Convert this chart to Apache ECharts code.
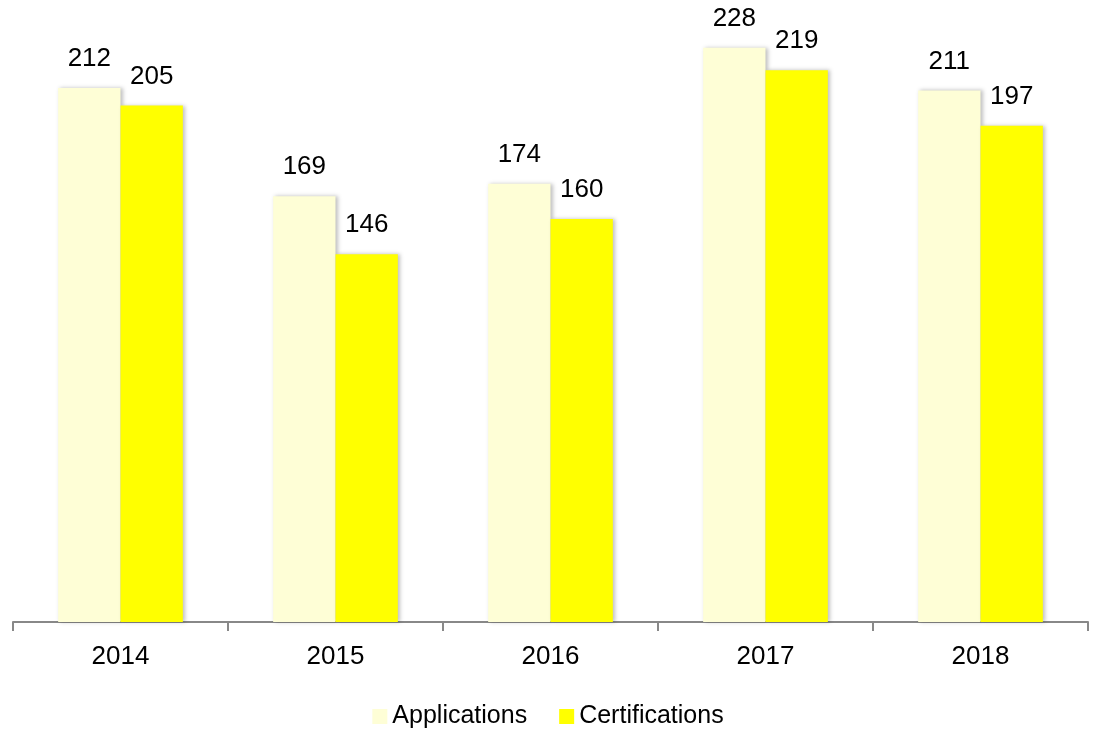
<!DOCTYPE html>
<html><head><meta charset="utf-8">
<script src="https://cdn.jsdelivr.net/npm/echarts@6/dist/echarts.min.js"></script>
<style>html,body{margin:0;padding:0;background:#fff}#c{width:1096px;height:731px}</style>
</head><body><div id="c"></div>
<script>
const categories = ['2014','2015','2016','2017','2018'];
const applications = [212,169,174,228,211];
const certifications = [205,146,160,219,197];
const seriesNames = ['Applications','Certifications'];

const FONT = '"Liberation Sans Narrow","Arial Narrow","Liberation Sans",Arial,sans-serif';
const chart = echarts.init(document.getElementById('c'));
const lbl = {show:true, position:'top', distance:16, color:'#000', fontSize:26, fontFamily:FONT};
const shadow = {shadowColor:'rgba(0,0,0,0.25)', shadowBlur:4, shadowOffsetX:2, shadowOffsetY:0};
chart.setOption({
  animation:false,
  grid:{left:13, right:8, top:17.4, bottom:109, containLabel:false},
  legend:{bottom:-3, left:'center', itemWidth:15, itemHeight:15, itemGap:32,
    icon:'rect', textStyle:{fontSize:25, fontFamily:FONT, color:'#000'},
    data:seriesNames},
  xAxis:{type:'category', data:categories,
    axisLine:{lineStyle:{color:'#888', width:2}},
    axisTick:{show:true, alignWithLabel:false, length:9, lineStyle:{color:'#888', width:2}},
    axisLabel:{margin:22, fontSize:26, fontFamily:FONT, color:'#000'}},
  yAxis:{type:'value', min:0, max:240, show:false, splitLine:{show:false}},
  series:[
    {name:seriesNames[0], type:'bar', data:applications, barGap:'0%', barCategoryGap:'42%',
      itemStyle:Object.assign({color:'#FEFED6'}, shadow), label:lbl},
    {name:seriesNames[1], type:'bar', data:certifications, barGap:'0%', barCategoryGap:'42%',
      itemStyle:Object.assign({color:'#FFFF00'}, shadow), label:lbl}
  ]
});
</script></body></html>
